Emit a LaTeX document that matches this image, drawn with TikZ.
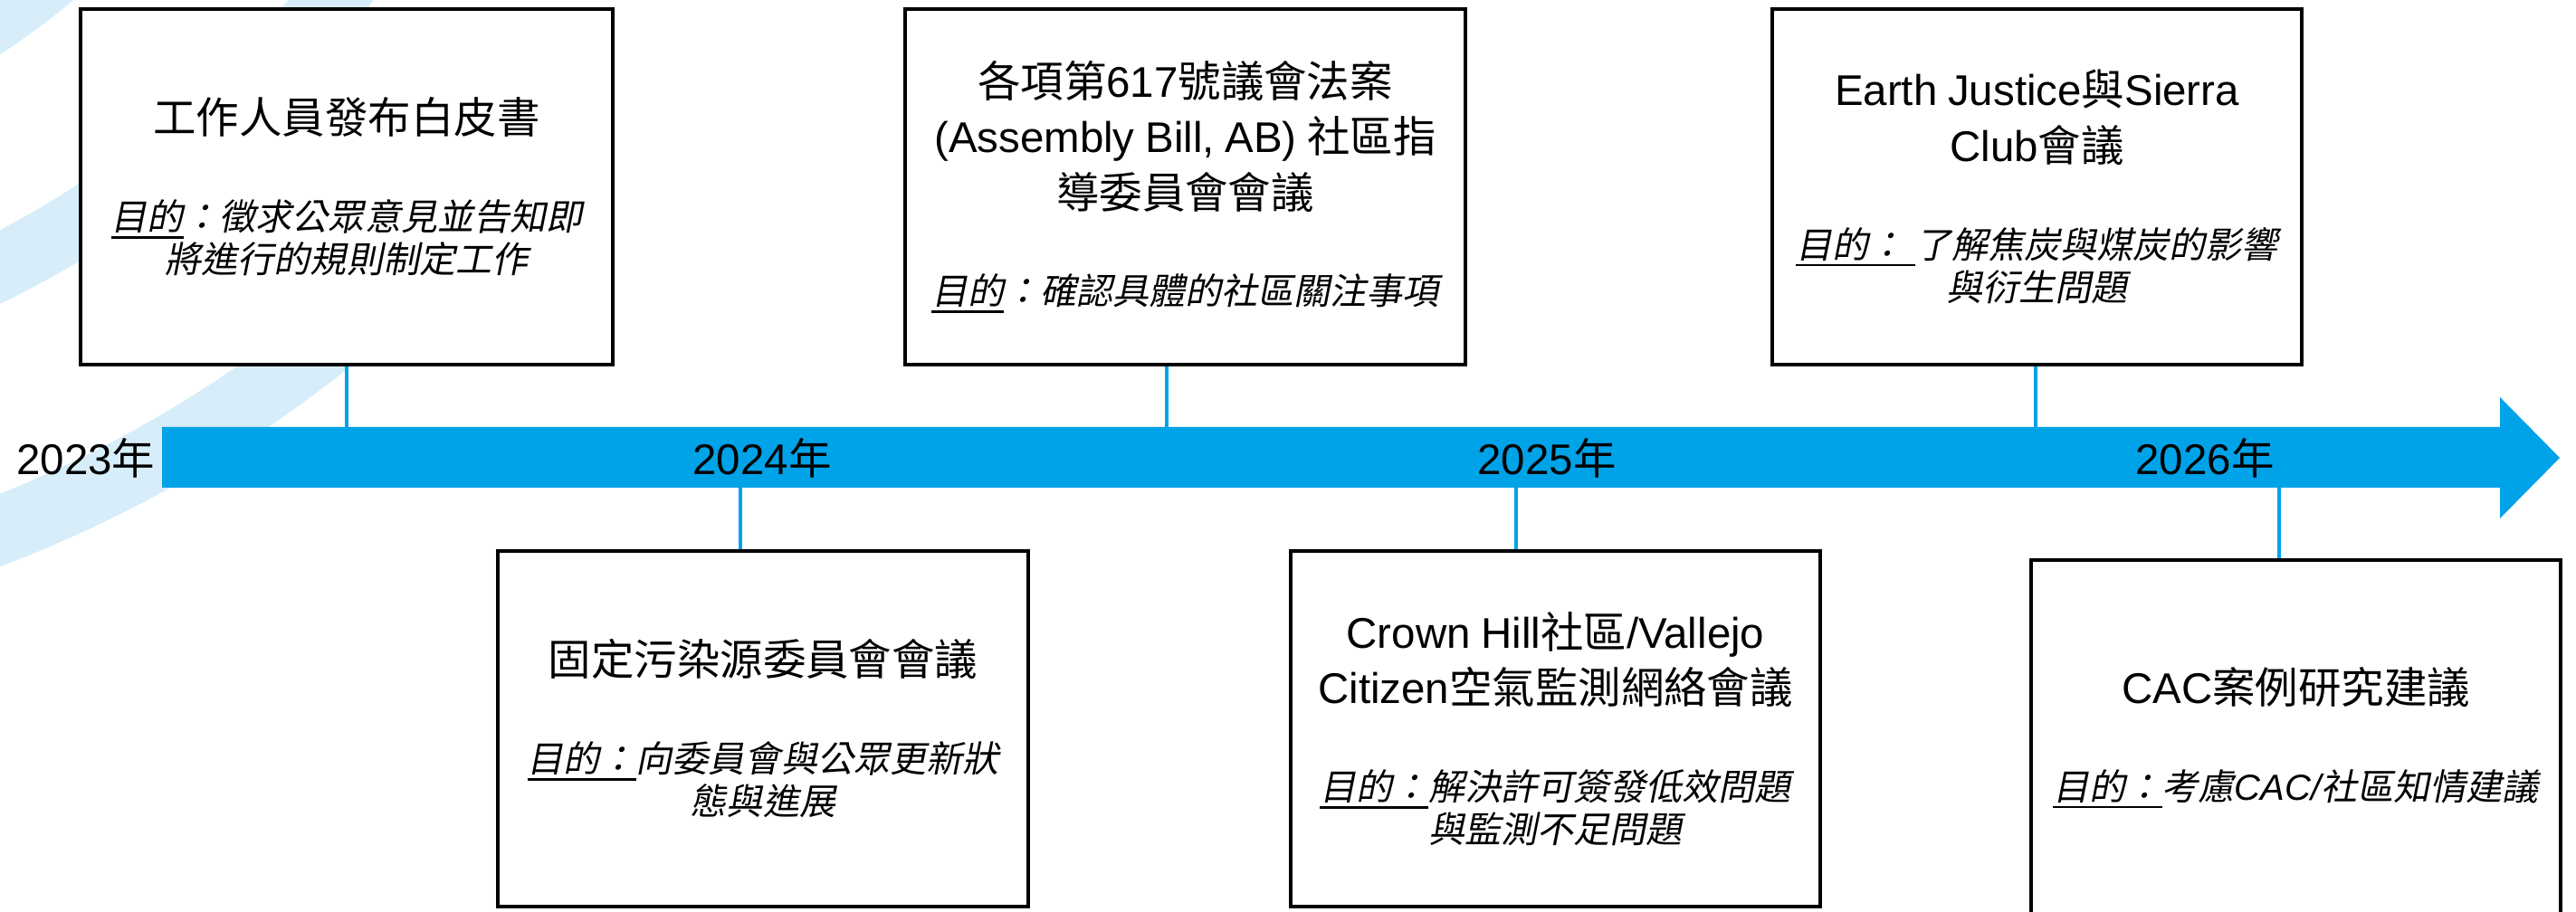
\documentclass[tikz,border=0pt]{standalone}
\usepackage{fontspec}
\setmainfont{Noto Sans CJK TC}[AutoFakeSlant=0.2]
\newfontfamily\latfont{Liberation Sans}
\usepackage{tikz}
\definecolor{tlblue}{RGB}{0,162,232}
\definecolor{bandblue}{RGB}{215,238,250}
\newcommand{\lat}[1]{{\latfont #1}}
\newcommand{\ttl}{\fontsize{13.5}{17.5}\selectfont}
\newcommand{\prp}{\fontsize{11.4}{13.4}\selectfont\itshape}
\newcommand{\gap}{\vspace{17pt}}
\newcommand{\udl}[1]{\leavevmode\setbox0=\hbox{#1}\rlap{\rule[-2.6pt]{\wd0}{0.8pt}}\box0}
\tikzset{
  evbox/.style={draw=black, line width=1.4pt, fill=white, rectangle,
    inner sep=0pt, minimum height=3.93cm, text width=#1,
    execute at begin node=\centering},
  evbox/.default=5.86cm,
  tick/.style={draw=tlblue, line width=1pt},
  yr/.style={font=\ttl, inner sep=0pt}
}

\begin{document}
\begin{tikzpicture}
    \useasboundingbox (0,0) rectangle (28.46,10.08);
    \begin{scope}
        \clip (0,0) rectangle (6.4,10.08);
        \coordinate (arcc) at (-5,17.08);
        \foreach \ri/\ro in {8.37/9.10, 10.77/11.50, 13.42/14.17}
            \fill[bandblue, even odd rule] (arcc) circle (\ro) (arcc) circle (\ri);
    \end{scope}

    \fill[tlblue] (1.79,5.36) -- (27.62,5.36) -- (27.62,5.69) -- (28.28,5.02)
        -- (27.62,4.35) -- (27.62,4.69) -- (1.79,4.69) -- cycle;

    \node[yr, anchor=east] (y23) at (1.72,5.02) {\lat{2023}年};
    \node[yr] (y24) at (8.42,5.02) {\lat{2024}年};
    \node[yr] (y25) at (17.09,5.02) {\lat{2025}年};
    \node[yr] (y26) at (24.36,5.02) {\lat{2026}年};

    \node[evbox=5.88cm] (paper) at (3.83,8.015)
        {{\ttl 工作人員發布白皮書\par}\gap
         {\prp\udl{目的}：徵求公眾意見並告知即\\將進行的規則制定工作\par}};
    \node[evbox=6.19cm] (ab617) at (13.095,8.015)
        {{\ttl 各項第\lat{617}號議會法案\\\lat{(Assembly Bill, AB) }社區指\\導委員會會議\par}\gap
         {\prp\udl{目的}：確認具體的社區關注事項\par}};
    \node[evbox=5.85cm] (sierra) at (22.505,8.015)
        {{\ttl \lat{Earth Justice}與\lat{Sierra}\\\lat{Club}會議\par}\gap
         {\prp\udl{目的：\ }了解焦炭與煤炭的影響\\與衍生問題\par}};
    \node[evbox=5.86cm] (source) at (8.43,2.025)
        {{\ttl 固定污染源委員會會議\par}\gap
         {\prp\udl{目的：}向委員會與公眾更新狀\\態與進展\par}};
    \node[evbox=5.85cm] (crown) at (17.185,2.025)
        {{\ttl \lat{Crown Hill}社區\lat{/Vallejo}\\\lat{Citizen}空氣監測網絡會議\par}\gap
         {\prp\udl{目的：}解決許可簽發低效問題\\與監測不足問題\par}};
    \node[evbox=5.85cm] (cac) at (25.365,1.925)
        {{\ttl \lat{CAC}案例研究建議\par}\gap
         {\prp\udl{目的：}考慮\lat{CAC/}社區知情建議\par}};

    \coordinate (t1) at (3.83,5.36);
    \coordinate (t2) at (12.89,5.36);
    \coordinate (t3) at (22.49,5.36);
    \coordinate (b1) at (8.18,4.69);
    \coordinate (b2) at (16.75,4.69);
    \coordinate (b3) at (25.18,4.69);
    \draw[tick] (t1) -- (t1 |- paper.south);
    \draw[tick] (t2) -- (t2 |- ab617.south);
    \draw[tick] (t3) -- (t3 |- sierra.south);
    \draw[tick] (b1) -- (b1 |- source.north);
    \draw[tick] (b2) -- (b2 |- crown.north);
    \draw[tick] (b3) -- (b3 |- cac.north);
\end{tikzpicture}
\end{document}
